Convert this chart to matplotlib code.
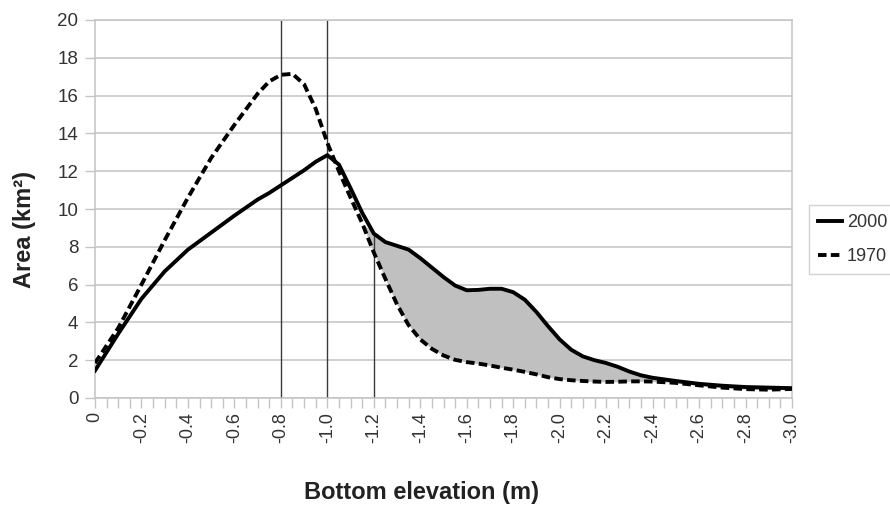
import matplotlib
matplotlib.use("Agg")
import matplotlib.pyplot as plt
import numpy as np

plt.rcParams['font.family'] = ['Liberation Sans', 'DejaVu Sans']

# ---- data ----
elevation = [0, -0.1, -0.2, -0.3, -0.4, -0.5, -0.6, -0.7, -0.75, -0.8, -0.85, -0.9, -0.95,
             -1.0, -1.05, -1.1, -1.15, -1.2, -1.25, -1.3, -1.35, -1.4, -1.45, -1.5, -1.55,
             -1.6, -1.65, -1.7, -1.75, -1.8, -1.85, -1.9, -1.95, -2.0, -2.05, -2.1, -2.15,
             -2.2, -2.25, -2.3, -2.35, -2.4, -2.5, -2.6, -2.7, -2.8, -2.9, -3.0]

area_2000 = [1.45, 3.4, 5.25, 6.7, 7.85, 8.75, 9.65, 10.5, 10.85, 11.25, 11.65, 12.05, 12.5,
             12.85, 12.35, 11.1, 9.8, 8.7, 8.25, 8.05, 7.85, 7.4, 6.9, 6.4, 5.95,
             5.7, 5.72, 5.78, 5.78, 5.6, 5.2, 4.55, 3.8, 3.1, 2.55, 2.2, 2.0,
             1.85, 1.65, 1.4, 1.2, 1.07, 0.9, 0.75, 0.65, 0.58, 0.55, 0.52]

area_1970 = [1.85, 3.7, 6.0, 8.35, 10.6, 12.7, 14.45, 16.1, 16.75, 17.1, 17.15, 16.6, 15.3,
             13.5, 12.0, 10.6, 9.25, 7.7, 6.3, 4.95, 3.85, 3.1, 2.6, 2.25, 2.02,
             1.9, 1.82, 1.72, 1.6, 1.5, 1.38, 1.25, 1.1, 1.0, 0.94, 0.9, 0.87,
             0.85, 0.86, 0.88, 0.88, 0.87, 0.8, 0.67, 0.55, 0.47, 0.44, 0.48]

marker_lines = [-0.8, -1.0, -1.2]
shade_start = -1.2

x_ticks = [0, -0.2, -0.4, -0.6, -0.8, -1.0, -1.2, -1.4, -1.6, -1.8, -2.0, -2.2, -2.4, -2.6, -2.8, -3.0]
x_tick_labels = ["0", "-0.2", "-0.4", "-0.6", "-0.8", "-1.0", "-1.2", "-1.4", "-1.6", "-1.8",
                 "-2.0", "-2.2", "-2.4", "-2.6", "-2.8", "-3.0"]
y_ticks = [0, 2, 4, 6, 8, 10, 12, 14, 16, 18, 20]

# ---- figure ----
W, H = 890, 508
fig = plt.figure(figsize=(W / 100, H / 100), dpi=100)
ax = fig.add_axes([95 / W, 1 - 398 / H, (792 - 95) / W, (398 - 20) / H])

x = np.array(elevation)
a00 = np.array(area_2000)
a70 = np.array(area_1970)

grid_c = '#c4c4c4'
ax.set_xlim(0, -3.0)
ax.set_ylim(0, 20)
ax.set_yticks(y_ticks)
ax.yaxis.grid(True, color=grid_c, lw=1.1)
ax.set_axisbelow(True)
for s in ax.spines.values():
    s.set_color(grid_c)
    s.set_linewidth(1.1)

# shaded region
mask = (x <= shade_start + 1e-9) & (a00 >= a70)
ax.fill_between(x, a70, a00, where=mask, interpolate=True, color='#c0c0c0', lw=0, zorder=1)

# vertical reference lines
idx12 = elevation.index(shade_start)
for v in marker_lines:
    top = 20 if v != shade_start else area_2000[idx12]
    ax.vlines(v, 0, top, color='#3a3a3a', lw=1.0, zorder=2)

l1, = ax.plot(x, a00, color='black', lw=2.8, solid_joinstyle='round', zorder=3, label='2000')
l2, = ax.plot(x, a70, color='black', lw=2.8, zorder=3, label='1970')
l2.set_dashes((2.2, 1.1))
l2.set_dash_capstyle('butt')

ax.set_xticks(x_ticks)
ax.set_xticklabels(x_tick_labels, rotation=90)
ax.set_xticks(np.arange(0, -3.0001, -0.05), minor=True)
ax.tick_params(axis='x', which='both', direction='out', length=7, width=1, color=grid_c,
               labelsize=13, labelcolor='#333333', pad=3)
ax.tick_params(axis='y', which='major', direction='out', length=7, width=1, color=grid_c,
               labelsize=13.5, labelcolor='#333333', pad=5)

fig.text(422 / W, 1 - 492 / H, 'Bottom elevation (m)', ha='center', va='center',
         fontsize=17, fontweight='bold', color='#222222')
fig.text(25 / W, 1 - 230 / H, 'Area (km²)', ha='center', va='center', rotation=90,
         fontsize=17, fontweight='bold', color='#222222')

leg = fig.legend(handles=[l1, l2], loc='upper left', bbox_to_anchor=(809 / W, 1 - 205 / H),
                 frameon=True, fancybox=False, shadow=False, fontsize=13,
                 handlelength=1.3, handletextpad=0.3, borderpad=0.5, labelspacing=0.95,
                 borderaxespad=0)
leg.get_frame().set_edgecolor('#c8c8c8')
leg.get_frame().set_linewidth(1.0)
for t in leg.get_texts():
    t.set_color('#333333')

fig.savefig('out.png', dpi=100)
